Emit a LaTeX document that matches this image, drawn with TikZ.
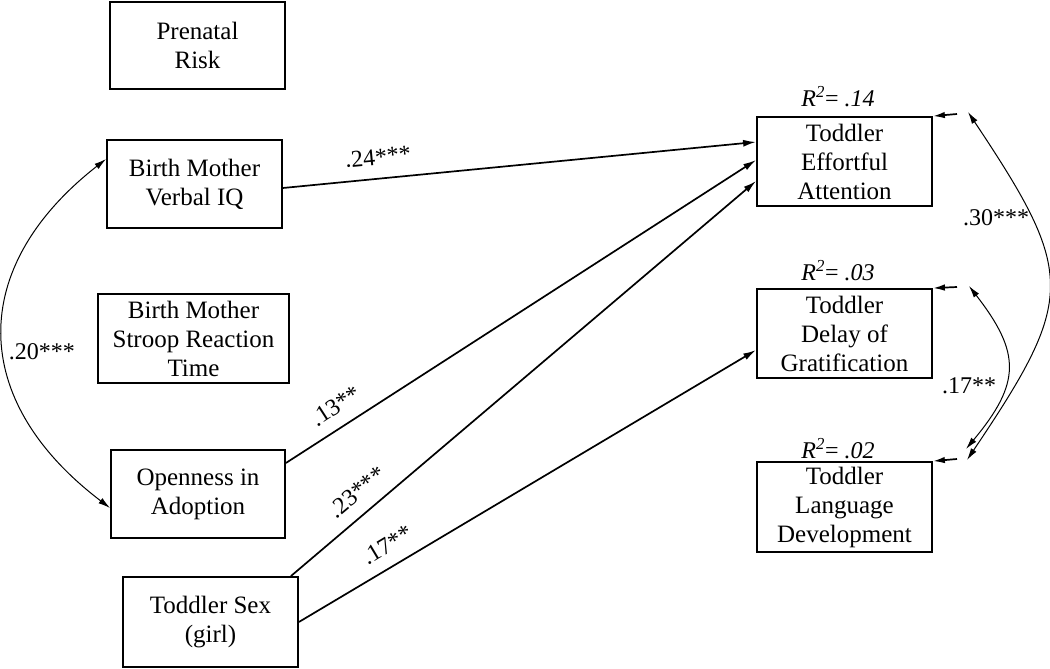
\documentclass[tikz,border=0pt]{standalone}
\usepackage{fontspec}
\setmainfont{Liberation Serif}
\usetikzlibrary{arrows.meta}
\tikzset{
  box/.style={draw, line width=1.8pt, inner sep=0pt, align=center, font=\fontsize{25}{29}\selectfont},
  path/.style={line width=1.7pt, -{Latex[length=13pt,width=7pt]}},
  resid/.style={line width=1.7pt, -{Latex[length=12pt,width=6.5pt]}},
  cov/.style={line width=1pt, {Latex[length=12pt,width=6.5pt]}-{Latex[length=12pt,width=6.5pt]}},
  lab/.style={font=\fontsize{24}{26}\selectfont, inner sep=0pt},
  rsq/.style={font=\fontsize{24}{26}\selectfont, inner sep=0pt}
}
\begin{document}
\begin{tikzpicture}[x=1pt,y=-1pt]
\useasboundingbox (0,0) rectangle (1050,669);
% left boxes
\node[box, minimum width=175pt, minimum height=87pt] (prenatal) at (197.5,45.5) {Prenatal\\Risk};
\node[box, minimum width=175pt, minimum height=88pt] (verbal) at (194.5,184) {Birth Mother\\Verbal IQ};
\node[box, minimum width=191pt, minimum height=89pt] (stroop) at (193.5,338.5) {Birth Mother\\Stroop Reaction\\Time};
\node[box, minimum width=174pt, minimum height=88pt] (open) at (198,494) {Openness in\\Adoption};
\node[box, minimum width=175pt, minimum height=90pt] (sex) at (210.5,622) {Toddler Sex\\(girl)};
% right boxes
\node[box, minimum width=175pt, minimum height=89pt] (eff) at (844.5,161.5) {Toddler\\Effortful\\Attention};
\node[box, minimum width=175pt, minimum height=89pt] (delay) at (844.5,333.5) {Toddler\\Delay of\\Gratification};
\node[box, minimum width=175pt, minimum height=90pt] (lang) at (844.5,507) {Toddler\\Language\\Development};
% R squared
\node[rsq] (r1) at (838,97) {\itshape R\textsuperscript{2}\upshape = \itshape .14};
\node[rsq] (r2) at (838,271) {\itshape R\textsuperscript{2}\upshape = \itshape .03};
\node[rsq] (r3) at (838,449) {\itshape R\textsuperscript{2}\upshape = \itshape .02};
% paths
\draw[path] ([yshift=-4pt]verbal.east) -- ([yshift=19.5pt]eff.west);
\draw[path] ([yshift=31pt]open.east) -- ([yshift=1.5pt]eff.west);
\draw[path] ([xshift=-8pt]sex.north east) -- ([yshift=-19.5pt]eff.west);
\draw[path] (sex.east) -- ([yshift=-16.5pt]delay.west);
% path labels
\node[lab, rotate=5.5] (l1) at (378,157) {.24***};
\node[lab, rotate=33] (l2) at (336,406) {.13**};
\node[lab, rotate=40] (l3) at (357,492) {.23***};
\node[lab, rotate=31] (l4) at (387,545) {.17**};
% residual arrows
\coordinate (e1) at (957,114);
\coordinate (e2) at (957,287);
\coordinate (e3) at (957,459);
\draw[resid] (e1) -- (eff.north east);
\draw[resid] (e2) -- (delay.north east);
\draw[resid] (e3) -- (lang.north east);
% covariances right
\coordinate (t1) at (968,112);
\coordinate (b1) at (967,460);
\coordinate (t2) at (969,286);
\coordinate (b2) at (966,449);
\draw[cov] (t1) .. controls (1076,274) and (1076,298) .. (b1);
\draw[cov] (t2) .. controls (1021,353) and (1021,383) .. (b2);
\node[lab] (c1) at (996,218) {.30***};
\node[lab] (c2) at (969,386) {.17**};
% covariance left
\draw[cov] ([yshift=25pt]verbal.west) .. controls (-32,267) and (-32,400) .. ([yshift=-14pt]open.west);
\node[lab] (c3) at (42,352) {.20***};
\end{tikzpicture}
\end{document}
